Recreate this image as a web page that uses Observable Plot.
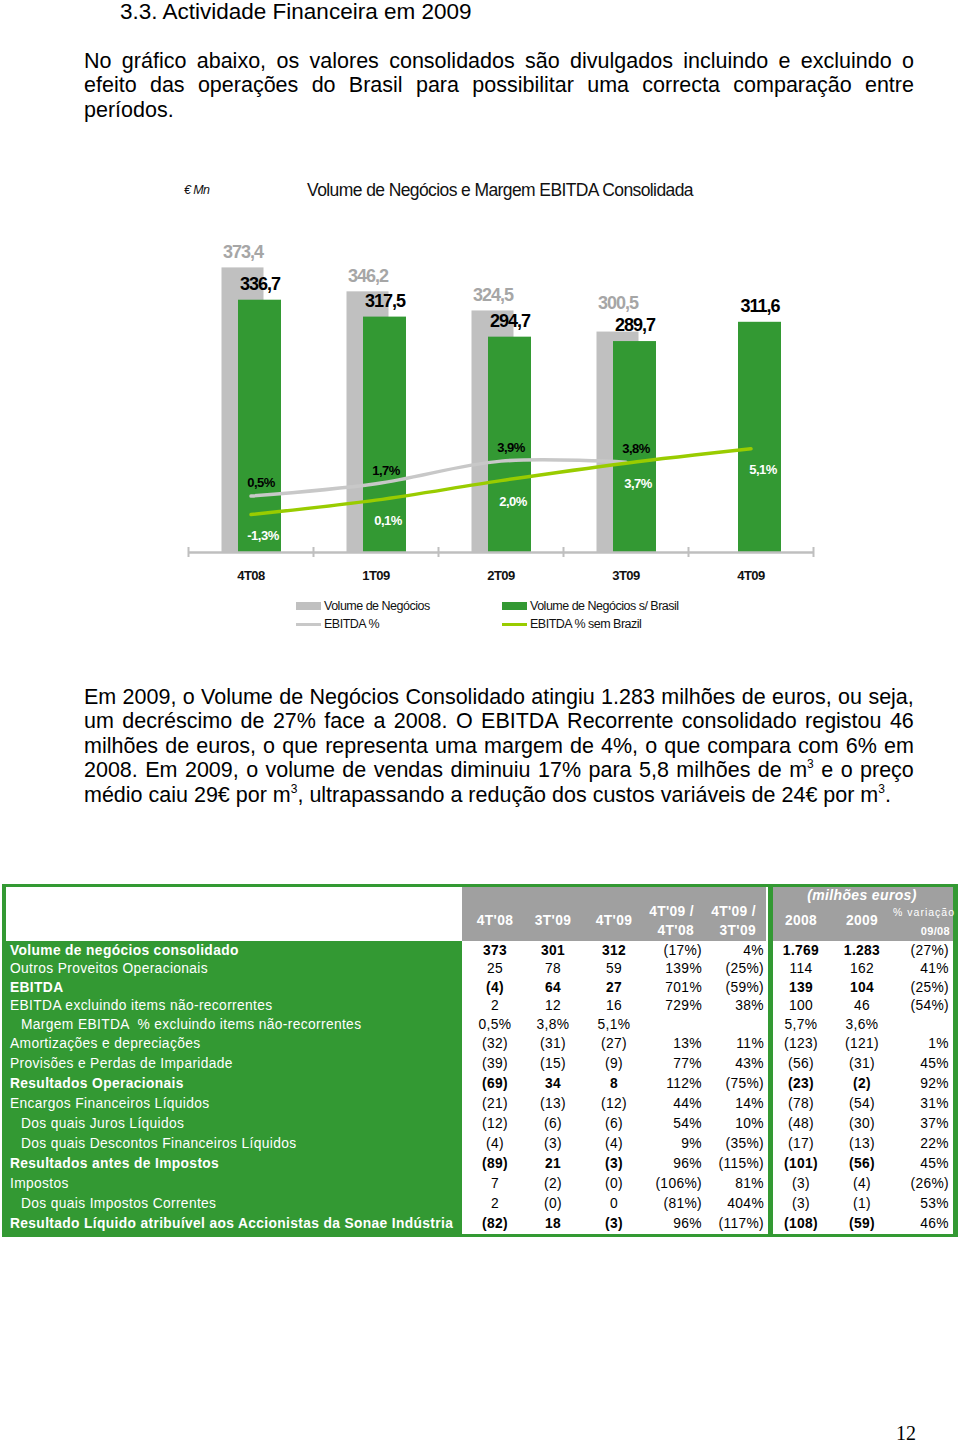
<!DOCTYPE html>
<html>
<head>
<meta charset="utf-8">
<script src="https://cdn.jsdelivr.net/npm/d3@7"></script>
<script src="https://cdn.jsdelivr.net/npm/@observablehq/plot@0.6"></script>
<style>
html,body{margin:0;padding:0;background:#fff;}
body{width:960px;height:1446px;position:relative;overflow:hidden;font-family:"Liberation Sans",Arial,sans-serif;color:#000;}
.abs{position:absolute;}
.heading{left:120px;top:0;font-size:22.5px;line-height:24px;white-space:nowrap;}
.para{position:absolute;left:84px;width:830px;font-size:21.5px;}
.ln{height:24.6px;line-height:24.6px;white-space:nowrap;}
.ln.just{display:flex;justify-content:space-between;}
.ln.just span{white-space:nowrap;}
sup{font-size:12px;line-height:0;vertical-align:9px;}
.ctitle{left:280px;width:440px;top:180px;text-align:center;font-size:17.5px;letter-spacing:-0.6px;line-height:20px;color:#111;white-space:nowrap;}
.unit{left:184px;top:181px;font-size:12.5px;font-style:italic;letter-spacing:-0.6px;line-height:18px;color:#111;}
.chart{left:150px;top:230px;}
.legend{left:296px;top:597px;width:420px;display:grid;grid-template-columns:206px 206px;grid-auto-rows:18px;font-size:12.5px;letter-spacing:-0.5px;color:#111;}
.legend div{display:flex;align-items:center;white-space:nowrap;}
.legend i{display:inline-block;width:25px;margin-right:3px;}
.pnum{left:896px;top:1423px;font-family:"Liberation Serif","Times New Roman",serif;font-size:20px;line-height:20px;}
.cell{position:absolute;white-space:nowrap;font-size:13.8px;letter-spacing:0.35px;}
</style>
</head>
<body>
<div class="abs heading">3.3. Actividade Financeira em 2009</div>
<div class="para" id="p1" style="top:48.7px"></div>

<div class="abs unit">€ Mn</div>
<div class="abs ctitle">Volume de Negócios e Margem EBITDA Consolidada</div>
<div class="abs chart" id="bars"></div>
<div class="abs chart" id="lines" style="pointer-events:none"></div>
<div class="abs legend" id="legend"></div>

<div class="para" id="p2" style="top:684.7px"></div>

<div class="abs" id="table" style="left:2px;top:884px;width:956px;height:353px;background:#339933;"></div>

<div class="abs pnum">12</div>

<script>
// ---------- text ----------
const para1Lines = [
  "No gráfico abaixo, os valores consolidados são divulgados incluindo e excluindo o",
  "efeito das operações do Brasil para possibilitar uma correcta comparação entre",
  "períodos."
];
const para2Lines = [
  "Em 2009, o Volume de Negócios Consolidado atingiu 1.283 milhões de euros, ou seja,",
  "um decréscimo de 27% face a 2008. O EBITDA Recorrente consolidado registou 46",
  "milhões de euros, o que representa uma margem de 4%, o que compara com 6% em",
  "2008. Em 2009, o volume de vendas diminuiu 17% para 5,8 milhões de m<sup>3</sup> e o preço",
  "médio caiu 29€ por m<sup>3</sup>, ultrapassando a redução dos custos variáveis de 24€ por m<sup>3</sup>."
];

// ---------- chart data ----------
const quarters = ["4T08", "1T09", "2T09", "3T09", "4T09"];
const volumeNegocios = [373.4, 346.2, 324.5, 300.5, null];
const volumeSemBrasil = [336.7, 317.5, 294.7, 289.7, 311.6];
const ebitdaPct = [0.5, 1.7, 3.9, 3.8, null];
const ebitdaPctSemBrasil = [-1.3, 0.1, 2.0, 3.7, 5.1];
const seriesNames = ["Volume de Negócios", "Volume de Negócios s/ Brasil", "EBITDA %", "EBITDA % sem Brazil"];
const barAxisDomain = [50, 400];
const pctAxisDomain = [-5, 25];

// ---------- table data ----------
const rowLabels = [
  "Volume de negócios consolidado",
  "Outros Proveitos Operacionais",
  "EBITDA",
  "EBITDA excluindo items não-recorrentes",
  "Margem EBITDA  % excluindo items não-recorrentes",
  "Amortizações e depreciações",
  "Provisões e Perdas de Imparidade",
  "Resultados Operacionais",
  "Encargos Financeiros Líquidos",
  "Dos quais Juros Líquidos",
  "Dos quais Descontos Financeiros Líquidos",
  "Resultados antes de Impostos",
  "Impostos",
  "Dos quais Impostos Correntes",
  "Resultado Líquido atribuível aos Accionistas da Sonae Indústria"
];
const boldRows = [0, 2, 7, 11, 14];
const indentRows = [4, 9, 10, 13];
const colHeaders = [["4T'08"], ["3T'09"], ["4T'09"], ["4T'09 /", "4T'08"], ["4T'09 /", "3T'09"], ["2008"], ["2009"], ["% variação", "09/08"]];
const unitLabel = "(milhões euros)";
const col4T08 = ["373","25","(4)","2","0,5%","(32)","(39)","(69)","(21)","(12)","(4)","(89)","7","2","(82)"];
const col3T09 = ["301","78","64","12","3,8%","(31)","(15)","34","(13)","(6)","(3)","21","(2)","(0)","18"];
const col4T09 = ["312","59","27","16","5,1%","(27)","(9)","8","(12)","(6)","(4)","(3)","(0)","0","(3)"];
const colVar4T08 = ["(17%)","139%","701%","729%","","13%","77%","112%","44%","54%","9%","96%","(106%)","(81%)","96%"];
const colVar3T09 = ["4%","(25%)","(59%)","38%","","11%","43%","(75%)","14%","10%","(35%)","(115%)","81%","404%","(117%)"];
const col2008 = ["1.769","114","139","100","5,7%","(123)","(56)","(23)","(78)","(48)","(17)","(101)","(3)","(3)","(108)"];
const col2009 = ["1.283","162","104","46","3,6%","(121)","(31)","(2)","(54)","(30)","(13)","(56)","(4)","(1)","(59)"];
const colVarAno = ["(27%)","41%","(25%)","(54%)","","1%","45%","92%","31%","37%","22%","45%","(26%)","53%","46%"];

// ---------- paragraphs ----------
function fillPara(el, lines) {
  lines.forEach((html, i) => {
    const d = document.createElement("div");
    const last = i === lines.length - 1;
    d.className = "ln" + (last ? "" : " just");
    if (last) d.innerHTML = html;
    else d.innerHTML = html.split(" ").map(w => `<span>${w}</span>`).join("");
    el.appendChild(d);
  });
}
fillPara(document.getElementById("p1"), para1Lines);
fillPara(document.getElementById("p2"), para2Lines);

// ---------- chart ----------
const fmtNum = v => v.toFixed(1).replace(".", ",");
const fmtPct = v => v.toFixed(1).replace(".", ",") + "%";
const grayBars = quarters.map((q, i) => ({q, v: volumeNegocios[i], other: volumeSemBrasil[i]})).filter(d => d.v != null);
const greenBars = quarters.map((q, i) => ({q, v: volumeSemBrasil[i]}));
const grayLine = quarters.map((q, i) => ({q, v: ebitdaPct[i]})).filter(d => d.v != null);
const greenLine = quarters.map((q, i) => ({q, v: ebitdaPctSemBrasil[i]}));

const W = 700, H = 370;
const M = {marginLeft: 38, marginRight: 37, marginTop: 14, marginBottom: 48};
const BAND = (W - M.marginLeft - M.marginRight) / quarters.length;
const FONT = "'Liberation Sans', Arial, sans-serif";
const GRAY = "#c0c0c0", GREEN = "#339933", LGRAY = "#c8c8c8", LIME = "#99cc00";
const base = barAxisDomain[0];
// keep the grey value label clear of the green label next to it (value units)
const labelGap = 25;

const barChart = Plot.plot({
  width: W, height: H, ...M,
  x: {type: "band", domain: quarters, padding: 0, label: null},
  y: {domain: barAxisDomain, axis: null},
  style: {fontFamily: FONT, background: "transparent", overflow: "visible"},
  marks: [
    Plot.barY(grayBars, {x: "q", y1: base, y2: "v", fill: GRAY, insetLeft: 41.5, insetRight: 41.5, dx: -8}),
    Plot.barY(greenBars, {x: "q", y1: base, y2: "v", fill: GREEN, insetLeft: 41, insetRight: 41, dx: 9}),
    Plot.ruleY([base], {stroke: "#bfbfbf", strokeWidth: 2.5}),
    Plot.ruleX(quarters, {x: d => d, y1: base, y2: base, insetTop: -5, insetBottom: -5, dx: -BAND / 2, stroke: "#bfbfbf", strokeWidth: 2}),
    Plot.ruleX(quarters.slice(-1), {x: d => d, y1: base, y2: base, insetTop: -5, insetBottom: -5, dx: BAND / 2, stroke: "#bfbfbf", strokeWidth: 2}),
    Plot.axisX({tickSize: 0, tickPadding: 18, fontSize: 13, fontWeight: "bold", color: "#111", label: null}),
    Plot.text(grayBars, {x: "q", y: d => Math.max(d.v, d.other + labelGap), text: d => fmtNum(d.v), dx: -8, dy: -16, fill: "#a6a6a6", fontSize: 18, fontWeight: "bold"}),
    Plot.text(greenBars, {x: "q", y: "v", text: d => fmtNum(d.v), dx: 9, dy: -16, fill: "#000", fontSize: 18, fontWeight: "bold"})
  ]
});
d3.select(barChart).selectAll("text").attr("letter-spacing", function() {
  const g = this.closest("[font-size]");
  return g && +g.getAttribute("font-size") >= 16 ? "-1" : "-0.5";
});
document.getElementById("bars").appendChild(barChart);

const lineChart = Plot.plot({
  width: W, height: H, ...M,
  x: {type: "band", domain: quarters, padding: 0, axis: null},
  y: {domain: pctAxisDomain, axis: null},
  style: {fontFamily: FONT, background: "transparent", overflow: "visible"},
  marks: [
    Plot.line(grayLine, {x: "q", y: "v", stroke: LGRAY, strokeWidth: 3.5, curve: "catmull-rom"}),
    Plot.line(greenLine, {x: "q", y: "v", stroke: LIME, strokeWidth: 3.5, curve: "catmull-rom"}),
    Plot.text(grayLine, {x: "q", y: "v", text: d => fmtPct(d.v), dx: 10, dy: -13, fill: "#000", fontSize: 13, fontWeight: "bold"}),
    Plot.text(greenLine, {x: "q", y: "v", text: d => fmtPct(d.v), dx: 12, dy: 21, fill: "#fff", fontSize: 13, fontWeight: "bold"})
  ]
});
d3.select(lineChart).selectAll("text").attr("letter-spacing", "-0.5");
document.getElementById("lines").appendChild(lineChart);

// legend
const legendItems = [
  {name: seriesNames[0], color: GRAY, kind: "bar"},
  {name: seriesNames[1], color: GREEN, kind: "bar"},
  {name: seriesNames[2], color: LGRAY, kind: "line"},
  {name: seriesNames[3], color: LIME, kind: "line"}
];
const leg = document.getElementById("legend");
legendItems.forEach(it => {
  const d = document.createElement("div");
  const sw = it.kind === "bar" ? `height:8px;background:${it.color}` : `height:3px;background:${it.color}`;
  d.innerHTML = `<i style="${sw}"></i><span>${it.name}</span>`;
  leg.appendChild(d);
});

// ---------- table ----------
const T = document.getElementById("table");
const OX = 2, OY = 884;
function box(x, y, w, h, bg) {
  const d = document.createElement("div");
  d.style.cssText = `position:absolute;left:${x - OX}px;top:${y - OY}px;width:${w}px;height:${h}px;background:${bg}`;
  T.appendChild(d);
  return d;
}
function cell(txt, x, y, h, align, opts = {}) {
  const d = document.createElement("div");
  d.className = "cell";
  let pos;
  if (align === "center") pos = `left:${x - 60 - OX}px;width:120px;text-align:center;`;
  else if (align === "right") pos = `left:${x - 160 - OX}px;width:160px;text-align:right;`;
  else pos = `left:${x - OX}px;`;
  d.style.cssText = pos + `top:${y - OY}px;height:${h}px;line-height:${h}px;` +
    (opts.bold ? "font-weight:bold;" : "") + (opts.color ? `color:${opts.color};` : "") +
    (opts.style || "");
  d.textContent = txt;
  if (opts.pre) d.style.whiteSpace = "pre";
  T.appendChild(d);
  return d;
}
// backgrounds
box(6, 887, 456, 54, "#fff");
box(462, 887, 306, 347, "#fff");
box(773, 887, 180, 347, "#fff");
box(462, 887, 304, 54, "#a0a0a0");
box(773, 887, 180, 54, "#a0a0a0");

const colPos = [
  {x: 495, a: "center"}, {x: 553, a: "center"}, {x: 614, a: "center"},
  {x: 702, a: "right"}, {x: 764, a: "right"},
  {x: 801, a: "center"}, {x: 862, a: "center"}, {x: 949, a: "right"}
];
const headerRight = [null, null, null, 694, 756, null, null, 950];
// header
cell(unitLabel, 862, 886, 18, "center", {bold: true, color: "#fff", style: "font-style:italic;font-size:14px;"});
colHeaders.forEach((h, j) => {
  const c = colPos[j];
  const x = headerRight[j] || c.x;
  const st = j === 7 ? "font-size:11px;" : "";
  if (h.length === 1) cell(h[0], x, 912, 18, c.a, {bold: true, color: "#fff", style: st});
  else {
    cell(h[0], j === 7 ? x + 5 : x, 903, 18, c.a, {bold: j !== 7, color: "#fff", style: j === 7 ? "font-size:10.5px;letter-spacing:1px;" : ""});
    cell(h[1], x, 922, 18, c.a, {bold: true, color: "#fff", style: st});
  }
});
// rows
const columns = [col4T08, col3T09, col4T09, colVar4T08, colVar3T09, col2008, col2009, colVarAno];
const boldCols = [0, 1, 2, 5, 6];
let y = 941.5;
rowLabels.forEach((lab, i) => {
  const h = i < 5 ? 18.5 : 20;
  const b = boldRows.includes(i);
  cell(lab, indentRows.includes(i) ? 21 : 10, y, h, "left", {bold: b, color: "#fff", pre: true});
  columns.forEach((col, j) => {
    if (col[i] !== "") cell(col[i], colPos[j].x, y, h, colPos[j].a, {bold: b && boldCols.includes(j)});
  });
  y += h;
});
</script>
</body>
</html>
